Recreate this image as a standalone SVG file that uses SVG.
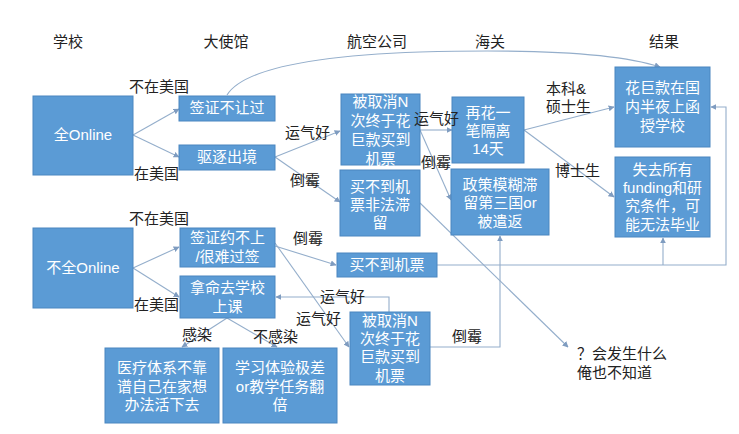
<svg xmlns="http://www.w3.org/2000/svg" width="739" height="434" viewBox="0 0 739 434">
<style>
.box{fill:#5B9BD5;stroke:#4A86C0;stroke-width:1}
.bt{font-family:"Liberation Sans","Noto Sans CJK SC",sans-serif;font-size:15px;fill:#fff;text-anchor:middle}
.lb{font-family:"Liberation Sans","Noto Sans CJK SC",sans-serif;font-size:15px;fill:#222}
.hd{font-family:"Liberation Sans","Noto Sans CJK SC",sans-serif;font-size:15px;fill:#222;text-anchor:middle}
.ln{fill:none;stroke:#94AECB;stroke-width:1.1}
</style>
<defs>
<marker id="ah" viewBox="0 0 10 10" refX="9" refY="5" markerWidth="6" markerHeight="6" orient="auto" markerUnits="userSpaceOnUse">
<path d="M0,0 L10,5 L0,10 z" fill="#7F9CC0"/>
</marker>
</defs>
<rect width="739" height="434" fill="#fff"/>
<g id="headers">
<text class="hd" x="68" y="47">学校</text>
<text class="hd" x="226" y="47">大使馆</text>
<text class="hd" x="377" y="47">航空公司</text>
<text class="hd" x="490" y="47">海关</text>
<text class="hd" x="664" y="47">结果</text>
</g>
<g id="connectors">
<path class="ln" d="M227,95 Q250,58 420,52 Q600,47 660,67" marker-end="url(#ah)"/>
<path class="ln" d="M133,135 L179,109" marker-end="url(#ah)"/>
<path class="ln" d="M133,135 L179,157" marker-end="url(#ah)"/>
<path class="ln" d="M275,157 L340,131" marker-end="url(#ah)"/>
<path class="ln" d="M275,157 L340,202" marker-end="url(#ah)"/>
<path class="ln" d="M420,130 L452,130" marker-end="url(#ah)"/>
<path class="ln" d="M420,130 L451,200" marker-end="url(#ah)"/>
<path class="ln" d="M524,130 L614,107" marker-end="url(#ah)"/>
<path class="ln" d="M524,130 L614,197" marker-end="url(#ah)"/>
<path class="ln" d="M420,203 L568,347" marker-end="url(#ah)"/>
<path class="ln" d="M437,265 L726,265 L726,107 L711,107" marker-end="url(#ah)"/>
<path class="ln" d="M663,265 L663,238" marker-end="url(#ah)"/>
<path class="ln" d="M133,268 L179,247" marker-end="url(#ah)"/>
<path class="ln" d="M133,268 L179,297" marker-end="url(#ah)"/>
<path class="ln" d="M275,246 L336,265" marker-end="url(#ah)"/>
<path class="ln" d="M275,243 L349,347" marker-end="url(#ah)"/>
<path class="ln" d="M389,312 L389,297 L276,297" marker-end="url(#ah)"/>
<path class="ln" d="M430,347 L500,347 L500,236" marker-end="url(#ah)"/>
<path class="ln" d="M227,318 L182,347" marker-end="url(#ah)"/>
<path class="ln" d="M227,318 L277,347" marker-end="url(#ah)"/>
</g>
<g id="n-full-online"><rect class="box" x="33" y="96" width="100" height="79"/><text class="bt" x="83" y="140">全Online</text></g>
<g id="n-visa-denied"><rect class="box" x="179" y="96" width="96" height="25"/><text class="bt" x="227" y="113">签证不让过</text></g>
<g id="n-deported"><rect class="box" x="179" y="145" width="96" height="25"/><text class="bt" x="227" y="162">驱逐出境</text></g>
<g id="n-ticket-top"><rect class="box" x="341" y="94" width="79" height="71"/>
<text class="bt" x="380.5" y="107">被取消N</text><text class="bt" x="380.5" y="126">次终于花</text><text class="bt" x="380.5" y="145">巨款买到</text><text class="bt" x="380.5" y="164">机票</text></g>
<g id="n-stranded"><rect class="box" x="340" y="170" width="80" height="66"/>
<text class="bt" x="380" y="192">买不到机</text><text class="bt" x="380" y="210">票非法滞</text><text class="bt" x="380" y="228">留</text></g>
<g id="n-quarantine"><rect class="box" x="452" y="97" width="72" height="66"/>
<text class="bt" x="488" y="118">再花一</text><text class="bt" x="488" y="136">笔隔离</text><text class="bt" x="488" y="154">14天</text></g>
<g id="n-policy"><rect class="box" x="451" y="169" width="98" height="66"/>
<text class="bt" x="500" y="190">政策模糊滞</text><text class="bt" x="500" y="208">留第三国or</text><text class="bt" x="500" y="227">被遣返</text></g>
<g id="n-online-school"><rect class="box" x="615" y="67" width="95" height="80"/>
<text class="bt" x="662.5" y="93">花巨款在国</text><text class="bt" x="662.5" y="112">内半夜上函</text><text class="bt" x="662.5" y="131">授学校</text></g>
<g id="n-lose-funding"><rect class="box" x="615" y="157" width="95" height="80"/>
<text class="bt" x="662.5" y="175">失去所有</text><text class="bt" x="662.5" y="193">funding和研</text><text class="bt" x="662.5" y="211">究条件，可</text><text class="bt" x="662.5" y="230">能无法毕业</text></g>
<g id="n-partial-online"><rect class="box" x="33" y="228" width="100" height="80"/><text class="bt" x="83" y="273">不全Online</text></g>
<g id="n-visa-hard"><rect class="box" x="180" y="228" width="95" height="39"/>
<text class="bt" x="227.5" y="243">签证约不上</text><text class="bt" x="227.5" y="262">/很难过签</text></g>
<g id="n-attend"><rect class="box" x="180" y="276" width="95" height="42"/>
<text class="bt" x="227.5" y="293">拿命去学校</text><text class="bt" x="227.5" y="312">上课</text></g>
<g id="n-medical"><rect class="box" x="105" y="348" width="114" height="75"/>
<text class="bt" x="162" y="373">医疗体系不靠</text><text class="bt" x="162" y="392">谱自己在家想</text><text class="bt" x="162" y="410">办法活下去</text></g>
<g id="n-study"><rect class="box" x="223" y="348" width="114" height="75"/>
<text class="bt" x="280" y="373">学习体验极差</text><text class="bt" x="280" y="392">or教学任务翻</text><text class="bt" x="280" y="410">倍</text></g>
<g id="n-no-ticket"><rect class="box" x="337" y="253" width="100" height="24"/><text class="bt" x="387" y="270">买不到机票</text></g>
<g id="n-ticket-bottom"><rect class="box" x="350" y="312" width="80" height="73"/>
<text class="bt" x="390" y="326">被取消N</text><text class="bt" x="390" y="344">次终于花</text><text class="bt" x="390" y="362">巨款买到</text><text class="bt" x="390" y="381">机票</text></g>
<g id="n-unknown">
<text class="lb" x="577" y="359">？会发生什么</text>
<text class="lb" x="577" y="378">俺也不知道</text>
</g>
<g id="edge-labels">
<text class="lb" x="129" y="92">不在美国</text>
<text class="lb" x="134" y="179">在美国</text>
<text class="lb" x="285" y="138">运气好</text>
<text class="lb" x="290" y="186">倒霉</text>
<text class="lb" x="414" y="124">运气好</text>
<text class="lb" x="421" y="168">倒霉</text>
<text class="lb" x="546" y="94">本科&amp;</text>
<text class="lb" x="546" y="112">硕士生</text>
<text class="lb" x="555" y="176">博士生</text>
<text class="lb" x="129" y="224">不在美国</text>
<text class="lb" x="134" y="310">在美国</text>
<text class="lb" x="293" y="244">倒霉</text>
<text class="lb" x="320" y="302">运气好</text>
<text class="lb" x="296" y="324">运气好</text>
<text class="lb" x="182" y="340">感染</text>
<text class="lb" x="253" y="342">不感染</text>
<text class="lb" x="452" y="342">倒霉</text>
</g>
</svg>
